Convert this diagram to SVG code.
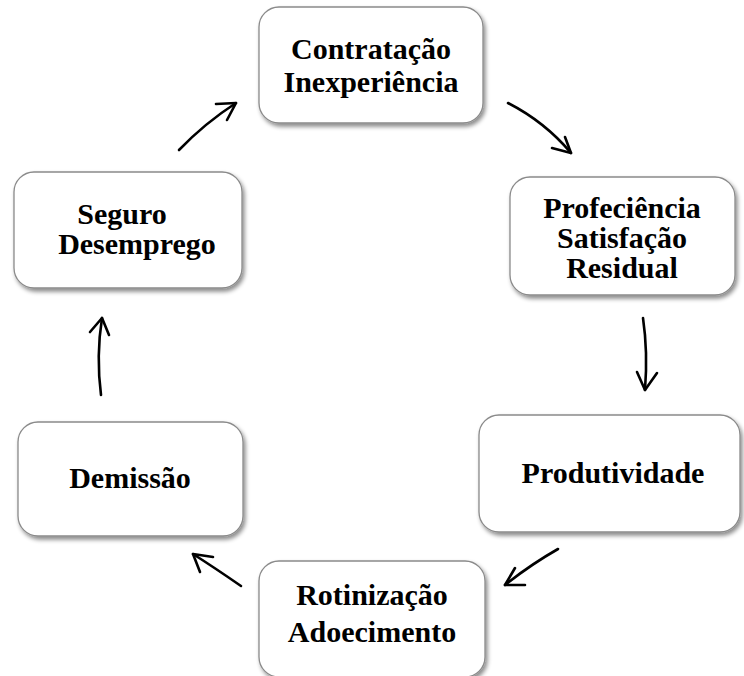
<svg xmlns="http://www.w3.org/2000/svg" width="744" height="676" viewBox="0 0 744 676">
<defs>
<filter id="sh" x="-10%" y="-10%" width="125%" height="130%">
<feDropShadow dx="2" dy="3" stdDeviation="2" flood-color="#000" flood-opacity="0.45"/>
</filter>
</defs>
<style>
.box{fill:#fff;stroke:#8a8a8a;stroke-width:1.3;filter:url(#sh)}
.t{font-family:"Liberation Serif","Times New Roman",serif;font-weight:bold;font-size:30px;fill:#000;text-anchor:middle}
.c{fill:none;stroke:#000;stroke-width:2.6;stroke-linecap:round;stroke-linejoin:round}
</style>
<rect width="744" height="676" fill="#fff"/>
<g id="n1">
<rect class="box" x="259" y="7" width="224" height="116" rx="20"/>
<text class="t" x="371" y="59">Contratação</text>
<text class="t" x="371" y="92">Inexperiência</text>
</g>
<g id="n2">
<rect class="box" x="510" y="177" width="225" height="118" rx="20"/>
<text class="t" x="622" y="218">Profeciência</text>
<text class="t" x="622" y="248">Satisfação</text>
<text class="t" x="622" y="278">Residual</text>
</g>
<g id="n3">
<rect class="box" x="479" y="415" width="261" height="117" rx="20"/>
<text class="t" x="613" y="483">Produtividade</text>
</g>
<g id="n4">
<rect class="box" x="259" y="561" width="226" height="116" rx="20"/>
<text class="t" x="372" y="605">Rotinização</text>
<text class="t" x="372" y="642">Adoecimento</text>
</g>
<g id="n5">
<rect class="box" x="14" y="172" width="228" height="116" rx="20"/>
<text class="t" x="122" y="224">Seguro</text>
<text class="t" x="137" y="254">Desemprego</text>
</g>
<g id="n6">
<rect class="box" x="18" y="422" width="225" height="114" rx="20"/>
<text class="t" x="130" y="488">Demissão</text>
</g>
<g id="connectors">
<path class="c" d="M179,150 Q205,123 236,103"/>
<path class="c" d="M216,104 L236,103 L227,120"/>
<path class="c" d="M508,103 Q545,122 571,153"/>
<path class="c" d="M552,148 L571,153 L565,137"/>
<path class="c" d="M643,318 Q648,352 645,390"/>
<path class="c" d="M637,372 L645,390 L657,373"/>
<path class="c" d="M558,549 Q530,565 505,585"/>
<path class="c" d="M515,568 L505,585 L525,585"/>
<path class="c" d="M241,586 Q215,568 193,554"/>
<path class="c" d="M213,557 L193,554 L200,572"/>
<path class="c" d="M101,395 Q96,356 102,318"/>
<path class="c" d="M90,332 L102,318 L109,335"/>
</g>
</svg>
